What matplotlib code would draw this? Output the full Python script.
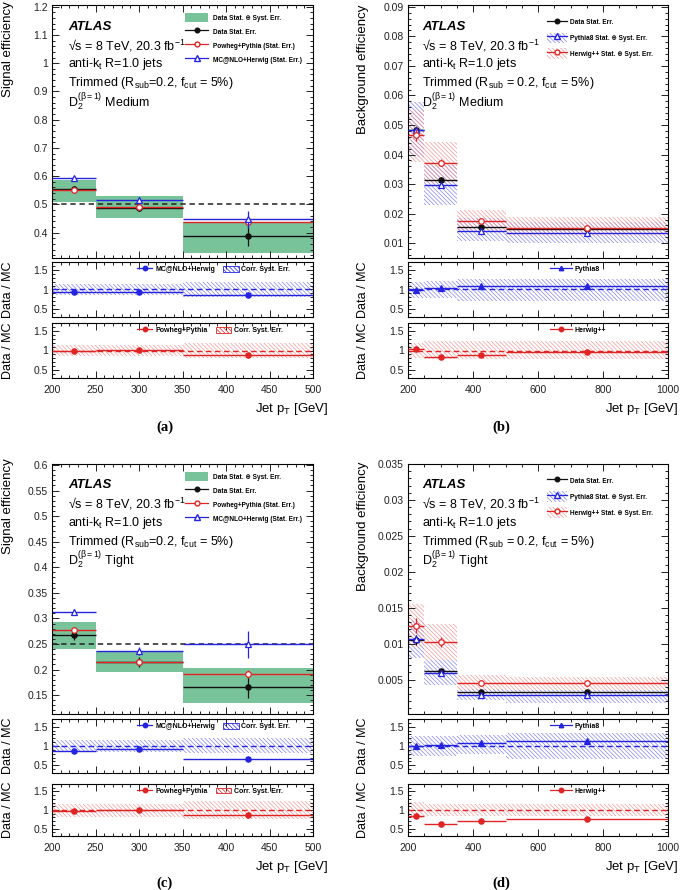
import numpy as np
import matplotlib.pyplot as plt
from matplotlib.patches import Patch
from matplotlib.lines import Line2D
from matplotlib.ticker import MultipleLocator, FuncFormatter

plt.rcParams['font.family'] = ['Liberation Sans', 'DejaVu Sans']
plt.rcParams['mathtext.fontset'] = 'custom'
plt.rcParams['mathtext.rm'] = 'Liberation Sans'
plt.rcParams['mathtext.it'] = 'Liberation Sans:italic'
plt.rcParams['mathtext.bf'] = 'Liberation Sans:bold'
plt.rcParams['hatch.linewidth'] = 0.5

# ---- (a) signal efficiency, D2 Medium ----
sigM_edges = [200, 250, 350, 500]
sigM_data = [0.553, 0.487, 0.388]
sigM_data_err = [0.013, 0.012, 0.035]
sigM_tot_lo = [0.507, 0.450, 0.329]
sigM_tot_hi = [0.585, 0.528, 0.436]
sigM_powheg = [0.552, 0.490, 0.437]
sigM_powheg_err = [0.005, 0.005, 0.008]
sigM_mcnlo = [0.593, 0.517, 0.447]
sigM_mcnlo_err = [0.005, 0.008, 0.030]
sigM_target = 0.5
sigM_r_mcnlo = [0.93, 0.94, 0.87]
sigM_r_mcnlo_err = [0.025, 0.025, 0.06]
sigM_s_mcnlo_lo = [0.87, 0.87, 0.81]
sigM_s_mcnlo_hi = [1.13, 1.13, 1.18]
sigM_r_powheg = [0.99, 1.01, 0.88]
sigM_r_powheg_err = [0.025, 0.025, 0.06]
sigM_s_powheg_lo = [0.87, 0.87, 0.81]
sigM_s_powheg_hi = [1.13, 1.15, 1.19]

# ---- (b) background efficiency, D2 Medium ----
bkgM_edges = [200, 250, 350, 500, 1000]
bkgM_data = [0.0482, 0.0315, 0.0155, 0.0148]
bkgM_data_err = [0.0015, 0.0010, 0.0007, 0.0005]
bkgM_py = [0.0482, 0.0298, 0.0142, 0.0135]
bkgM_py_err = [0.0010, 0.0006, 0.0004, 0.0003]
bkgM_py_lo = [0.0392, 0.0228, 0.0107, 0.0100]
bkgM_py_hi = [0.0578, 0.0365, 0.0185, 0.0172]
bkgM_hw = [0.0465, 0.0372, 0.0175, 0.0153]
bkgM_hw_err = [0.0020, 0.0012, 0.0005, 0.0004]
bkgM_hw_lo = [0.0375, 0.0305, 0.0137, 0.0125]
bkgM_hw_hi = [0.0550, 0.0443, 0.0213, 0.0190]
bkgM_r_py = [0.98, 1.05, 1.09, 1.08]
bkgM_r_py_err = [0.03, 0.02, 0.02, 0.02]
bkgM_s_py_lo = [0.78, 0.78, 0.71, 0.71]
bkgM_s_py_hi = [1.20, 1.21, 1.26, 1.26]
bkgM_r_hw = [1.04, 0.84, 0.89, 0.95]
bkgM_r_hw_err = [0.04, 0.03, 0.03, 0.02]
bkgM_s_hw_lo = [0.81, 0.79, 0.79, 0.79]
bkgM_s_hw_hi = [1.19, 1.23, 1.23, 1.23]

# ---- (c) signal efficiency, D2 Tight ----
sigT_edges = [200, 250, 350, 500]
sigT_data = [0.268, 0.215, 0.166]
sigT_data_err = [0.010, 0.010, 0.022]
sigT_tot_lo = [0.241, 0.196, 0.135]
sigT_tot_hi = [0.293, 0.236, 0.202]
sigT_powheg = [0.277, 0.215, 0.191]
sigT_powheg_err = [0.004, 0.004, 0.008]
sigT_mcnlo = [0.312, 0.236, 0.249]
sigT_mcnlo_err = [0.006, 0.008, 0.026]
sigT_target = 0.25
sigT_r_mcnlo = [0.86, 0.91, 0.66]
sigT_r_mcnlo_err = [0.03, 0.03, 0.06]
sigT_s_mcnlo_lo = [0.84, 0.84, 0.81]
sigT_s_mcnlo_hi = [1.16, 1.16, 1.22]
sigT_r_powheg = [0.97, 1.00, 0.87]
sigT_r_powheg_err = [0.04, 0.03, 0.07]
sigT_s_powheg_lo = [0.80, 0.80, 0.76]
sigT_s_powheg_hi = [1.17, 1.17, 1.24]

# ---- (d) background efficiency, D2 Tight ----
bkgT_edges = [200, 250, 350, 500, 1000]
bkgT_data = [0.0105, 0.0062, 0.0032, 0.0033]
bkgT_data_err = [0.0007, 0.0003, 0.0002, 0.0002]
bkgT_py = [0.0107, 0.0059, 0.0029, 0.0029]
bkgT_py_err = [0.0005, 0.0003, 0.0002, 0.0001]
bkgT_py_lo = [0.0080, 0.0042, 0.0021, 0.0018]
bkgT_py_hi = [0.0133, 0.0077, 0.0037, 0.0035]
bkgT_hw = [0.0125, 0.0102, 0.0045, 0.0045]
bkgT_hw_err = [0.0010, 0.0007, 0.0002, 0.0002]
bkgT_hw_lo = [0.0095, 0.0077, 0.0035, 0.0036]
bkgT_hw_hi = [0.0155, 0.0127, 0.0056, 0.0054]
bkgT_r_py = [1.00, 1.03, 1.08, 1.14]
bkgT_r_py_err = [0.04, 0.03, 0.03, 0.02]
bkgT_s_py_lo = [0.74, 0.74, 0.78, 0.67]
bkgT_s_py_hi = [1.26, 1.26, 1.28, 1.33]
bkgT_r_hw = [0.85, 0.61, 0.71, 0.76]
bkgT_r_hw_err = [0.07, 0.03, 0.03, 0.02]
bkgT_s_hw_lo = [0.78, 0.83, 0.83, 0.83]
bkgT_s_hw_hi = [1.22, 1.17, 1.17, 1.17]

GREEN = '#79c39b'
BLUE = '#2424e0'
RED = '#e02424'
BLUE_H = '#8484f0'
RED_H = '#f39a9a'
HATCH = '\\' * 8

W, H = 685, 890
fig = plt.figure(figsize=(W / 100, H / 100), dpi=100)
fmt = FuncFormatter(lambda v, _: f'{v:.10g}')


def add_ax(l, t, r, b):
    return fig.add_axes([l / W, 1 - b / H, (r - l) / W, (b - t) / H])


def px_text(x, y, s, **kw):
    fig.text(x / W, 1 - y / H, s, **kw)


def style(ax, xlim, ylim, xmaj, xmin, ymaj, ymin, xlabels=False):
    ax.set_xlim(*xlim)
    ax.set_ylim(*ylim)
    ax.xaxis.set_major_locator(MultipleLocator(xmaj))
    ax.xaxis.set_minor_locator(MultipleLocator(xmin))
    ax.yaxis.set_major_locator(MultipleLocator(ymaj))
    ax.yaxis.set_minor_locator(MultipleLocator(ymin))
    ax.xaxis.set_major_formatter(fmt)
    ax.yaxis.set_major_formatter(fmt)
    ax.tick_params(which='both', direction='in', top=True, right=True,
                   labelsize=7.5, width=0.7, colors='#222222')
    ax.tick_params(which='major', length=5)
    ax.tick_params(which='minor', length=2.5)
    ax.tick_params(axis='y', pad=3)
    ax.tick_params(axis='x', pad=5, labelbottom=xlabels)
    for s in ax.spines.values():
        s.set_linewidth(0.8)


def draw_band(ax, edges, lo_v, hi_v, **kw):
    e = np.asarray(edges, float)
    ax.bar(e[:-1], np.subtract(hi_v, lo_v), bottom=lo_v, width=np.diff(e),
           align='edge', **kw)


def draw_series(ax, edges, vals, errs, color, marker, mfc, ms=4.0, z=3):
    e = np.asarray(edges, float)
    c = (e[:-1] + e[1:]) / 2
    ax.hlines(vals, e[:-1], e[1:], colors=color, lw=1.0, zorder=z)
    ax.errorbar(c, vals, yerr=errs, fmt=marker, color=color, mfc=mfc, mec=color,
                ms=ms, mew=0.9, elinewidth=0.9, capsize=0, zorder=z + 0.5)


def info_text(ax, x0, y0, trimmed, wp):
    ax.text(x0, y0, 'ATLAS', transform=ax.transAxes, fontsize=9.5,
            fontweight='bold', style='italic', va='center')
    lines = ['√s = 8 TeV, 20.3 fb$^{-1}$', 'anti-k$_{\\mathrm{t}}$ R=1.0 jets',
             trimmed, 'D$_2^{(\\mathrm{β=1})}$ ' + wp]
    for i, s in enumerate(lines):
        ax.text(x0, y0 - (i + 1) * 0.075, s, transform=ax.transAxes,
                fontsize=9, va='center')


def ratio_panel(ax, edges, r, r_err, s_lo, s_hi, color, hcolor, marker, label,
                leg_x, hl, syst_label=None):
    draw_band(ax, edges, s_lo, s_hi, facecolor='none', edgecolor=hcolor,
              hatch=HATCH, lw=0, zorder=1)
    ax.axhline(1, color=color, ls=(0, (4, 2.5)), lw=1.0, zorder=2)
    draw_series(ax, edges, r, r_err, color, marker, color, ms=3.8)
    handles = [Line2D([], [], color=color, marker=marker, ms=3.2, lw=0.9)]
    labels = [label]
    if syst_label:
        handles.append(Patch(facecolor='none', edgecolor=color, hatch=HATCH, lw=0.6))
        labels.append(syst_label)
    ax.legend(handles, labels, ncol=len(handles), loc='upper left',
              bbox_to_anchor=(leg_x, 0.93), frameon=False,
              prop=dict(size=5, weight='bold'), handlelength=hl, handleheight=0.9,
              columnspacing=1.2, handletextpad=0.4, borderpad=0, borderaxespad=0)


def signal_figure(left, right, top, mid, r1, r2, edges, data, data_err, tot_lo, tot_hi,
                  pw, pw_err, mc, mc_err, target, ylim, ymaj, ymin, wp,
                  r_mc, r_mc_err, s_mc_lo, s_mc_hi, r_pw, r_pw_err, s_pw_lo, s_pw_hi,
                  tag, ylab_top, xlab_y, tag_y):
    ax = add_ax(left, top, right, mid)
    draw_band(ax, edges, tot_lo, tot_hi, color=GREEN, lw=0, zorder=1)
    ax.axhline(target, color='#222222', ls=(0, (3.5, 2.5)), lw=1.1, zorder=2)
    draw_series(ax, edges, data, data_err, '#111111', 'o', '#111111', ms=3.8, z=3)
    draw_series(ax, edges, pw, pw_err, RED, 'o', 'white', ms=4.0, z=4)
    draw_series(ax, edges, mc, mc_err, BLUE, '^', 'white', ms=4.2, z=5)
    style(ax, (200, 500), ylim, 50, 10, ymaj, ymin)
    info_text(ax, 0.061, 0.915, 'Trimmed (R$_{\\mathrm{sub}}$=0.2, f$_{\\mathrm{cut}}$ = 5%)', wp)
    h = [Patch(facecolor=GREEN, edgecolor='none'),
         Line2D([], [], color='#111111', marker='o', ms=3.3, lw=0.9),
         Line2D([], [], color=RED, marker='o', mfc='white', ms=3.5, lw=0.9),
         Line2D([], [], color=BLUE, marker='^', mfc='white', ms=3.7, lw=0.9)]
    labs = ['Data Stat. ⊕ Syst. Err.', 'Data Stat. Err.',
            'Powheg+Pythia (Stat. Err.)', 'MC@NLO+Herwig (Stat. Err.)']
    ax.legend(h, labs, loc='upper left', bbox_to_anchor=(0.51, 0.968), frameon=False,
              prop=dict(size=4.7, weight='bold'), handlelength=3.5, handleheight=1.7,
              labelspacing=0.8, handletextpad=0.7, borderpad=0, borderaxespad=0)

    a1 = add_ax(left, r1[0], right, r1[1])
    ratio_panel(a1, edges, r_mc, r_mc_err, s_mc_lo, s_mc_hi, BLUE, BLUE_H, 'o',
                'MC@NLO+Herwig', 0.326, 2.2, 'Corr. Syst. Err.')
    style(a1, (200, 500), (0.3, 1.7), 50, 10, 0.5, 0.1)
    a2 = add_ax(left, r2[0], right, r2[1])
    ratio_panel(a2, edges, r_pw, r_pw_err, s_pw_lo, s_pw_hi, RED, RED_H, 'o',
                'Powheg+Pythia', 0.326, 2.2, 'Corr. Syst. Err.')
    style(a2, (200, 500), (0.3, 1.7), 50, 10, 0.5, 0.1, xlabels=True)

    px_text(8, ylab_top, 'Signal efficiency', rotation=90, ha='center', va='top', fontsize=9.5)
    for lo_, hi_ in (r1, r2):
        px_text(8, (lo_ + hi_) / 2, 'Data / MC', rotation=90, ha='center', va='center', fontsize=9)
    px_text(right + 15, xlab_y, 'Jet p$_{\\mathrm{T}}$ [GeV]', ha='right', va='center', fontsize=9.5)
    px_text((left + right) / 2 - 18, tag_y, tag, ha='center', va='center', fontsize=10.5,
            fontweight='bold', family='Liberation Serif')


def background_figure(left, right, top, mid, r1, r2, edges, data, data_err,
                      py, py_err, py_lo, py_hi, hw, hw_err, hw_lo, hw_hi,
                      ylim, ymaj, ymin, wp, r_py, r_py_err, s_py_lo, s_py_hi,
                      r_hw, r_hw_err, s_hw_lo, s_hw_hi, tag, ylab_top, xlab_y, tag_y):
    ax = add_ax(left, top, right, mid)
    draw_band(ax, edges, py_lo, py_hi, facecolor='none', edgecolor=BLUE_H,
              hatch=HATCH, lw=0, zorder=1)
    draw_band(ax, edges, hw_lo, hw_hi, facecolor='none', edgecolor=RED_H,
              hatch=HATCH, lw=0, zorder=1.2)
    draw_series(ax, edges, data, data_err, '#111111', 'o', '#111111', ms=3.8, z=3)
    draw_series(ax, edges, py, py_err, BLUE, '^', 'white', ms=4.2, z=4)
    draw_series(ax, edges, hw, hw_err, RED, 'o', 'white', ms=4.0, z=5)
    style(ax, (200, 1000), ylim, 200, 50, ymaj, ymin)
    info_text(ax, 0.054, 0.915, 'Trimmed (R$_{\\mathrm{sub}}$ = 0.2, f$_{\\mathrm{cut}}$ = 5%)', wp)
    h = [Line2D([], [], color='#111111', marker='o', ms=3.3, lw=0.9),
         (Patch(facecolor='none', edgecolor=BLUE_H, hatch=HATCH, lw=0),
          Line2D([], [], color=BLUE, marker='^', mfc='white', ms=3.7, lw=0.9)),
         (Patch(facecolor='none', edgecolor=RED_H, hatch=HATCH, lw=0),
          Line2D([], [], color=RED, marker='o', mfc='white', ms=3.5, lw=0.9))]
    labs = ['Data Stat. Err.', 'Pythia8 Stat. ⊕ Syst. Err.', 'Herwig++ Stat. ⊕ Syst. Err.']
    ax.legend(h, labs, loc='upper left', bbox_to_anchor=(0.535, 0.953), frameon=False,
              prop=dict(size=4.7, weight='bold'), handlelength=3.1, handleheight=2.1,
              labelspacing=0.8, handletextpad=0.4, borderpad=0, borderaxespad=0)

    a1 = add_ax(left, r1[0], right, r1[1])
    ratio_panel(a1, edges, r_py, r_py_err, s_py_lo, s_py_hi, BLUE, BLUE_H, '^',
                'Pythia8', 0.546, 3.2)
    style(a1, (200, 1000), (0.3, 1.7), 200, 50, 0.5, 0.1)
    a2 = add_ax(left, r2[0], right, r2[1])
    ratio_panel(a2, edges, r_hw, r_hw_err, s_hw_lo, s_hw_hi, RED, RED_H, 'o',
                'Herwig++', 0.546, 3.2)
    style(a2, (200, 1000), (0.3, 1.7), 200, 50, 0.5, 0.1, xlabels=True)

    px_text(left - 45, ylab_top, 'Background efficiency', rotation=90, ha='center', va='top',
            fontsize=9.5)
    for lo_, hi_ in (r1, r2):
        px_text(left - 45, (lo_ + hi_) / 2, 'Data / MC', rotation=90, ha='center',
                va='center', fontsize=9)
    px_text(right + 10, xlab_y, 'Jet p$_{\\mathrm{T}}$ [GeV]', ha='right', va='center', fontsize=9.5)
    px_text((left + right) / 2 - 37, tag_y, tag, ha='center', va='center', fontsize=10.5,
            fontweight='bold', family='Liberation Serif')


signal_figure(52, 313, 5, 258, (262, 317), (323, 378), sigM_edges, sigM_data, sigM_data_err,
              sigM_tot_lo, sigM_tot_hi, sigM_powheg, sigM_powheg_err, sigM_mcnlo,
              sigM_mcnlo_err, sigM_target, (0.31, 1.206), 0.1, 0.02, 'Medium',
              sigM_r_mcnlo, sigM_r_mcnlo_err, sigM_s_mcnlo_lo, sigM_s_mcnlo_hi,
              sigM_r_powheg, sigM_r_powheg_err, sigM_s_powheg_lo, sigM_s_powheg_hi,
              '(a)', 1, 409, 427)
background_figure(408, 668, 5, 258, (262, 317), (323, 378), bkgM_edges, bkgM_data,
                  bkgM_data_err, bkgM_py, bkgM_py_err, bkgM_py_lo, bkgM_py_hi,
                  bkgM_hw, bkgM_hw_err, bkgM_hw_lo, bkgM_hw_hi, (0.005, 0.0906), 0.01, 0.002,
                  'Medium', bkgM_r_py, bkgM_r_py_err, bkgM_s_py_lo, bkgM_s_py_hi,
                  bkgM_r_hw, bkgM_r_hw_err, bkgM_s_hw_lo, bkgM_s_hw_hi, '(b)', 5, 409, 427)
signal_figure(52, 313, 464, 714, (719, 773), (784, 836), sigT_edges, sigT_data, sigT_data_err,
              sigT_tot_lo, sigT_tot_hi, sigT_powheg, sigT_powheg_err, sigT_mcnlo,
              sigT_mcnlo_err, sigT_target, (0.113, 0.602), 0.05, 0.01, 'Tight',
              sigT_r_mcnlo, sigT_r_mcnlo_err, sigT_s_mcnlo_lo, sigT_s_mcnlo_hi,
              sigT_r_powheg, sigT_r_powheg_err, sigT_s_powheg_lo, sigT_s_powheg_hi,
              '(c)', 458, 867, 883)
background_figure(408, 668, 464, 714, (719, 773), (784, 836), bkgT_edges, bkgT_data,
                  bkgT_data_err, bkgT_py, bkgT_py_err, bkgT_py_lo, bkgT_py_hi,
                  bkgT_hw, bkgT_hw_err, bkgT_hw_lo, bkgT_hw_hi, (0.0002, 0.035), 0.005, 0.001,
                  'Tight', bkgT_r_py, bkgT_r_py_err, bkgT_s_py_lo, bkgT_s_py_hi,
                  bkgT_r_hw, bkgT_r_hw_err, bkgT_s_hw_lo, bkgT_s_hw_hi, '(d)', 462, 867, 883)

fig.savefig('out.png', dpi=100)
